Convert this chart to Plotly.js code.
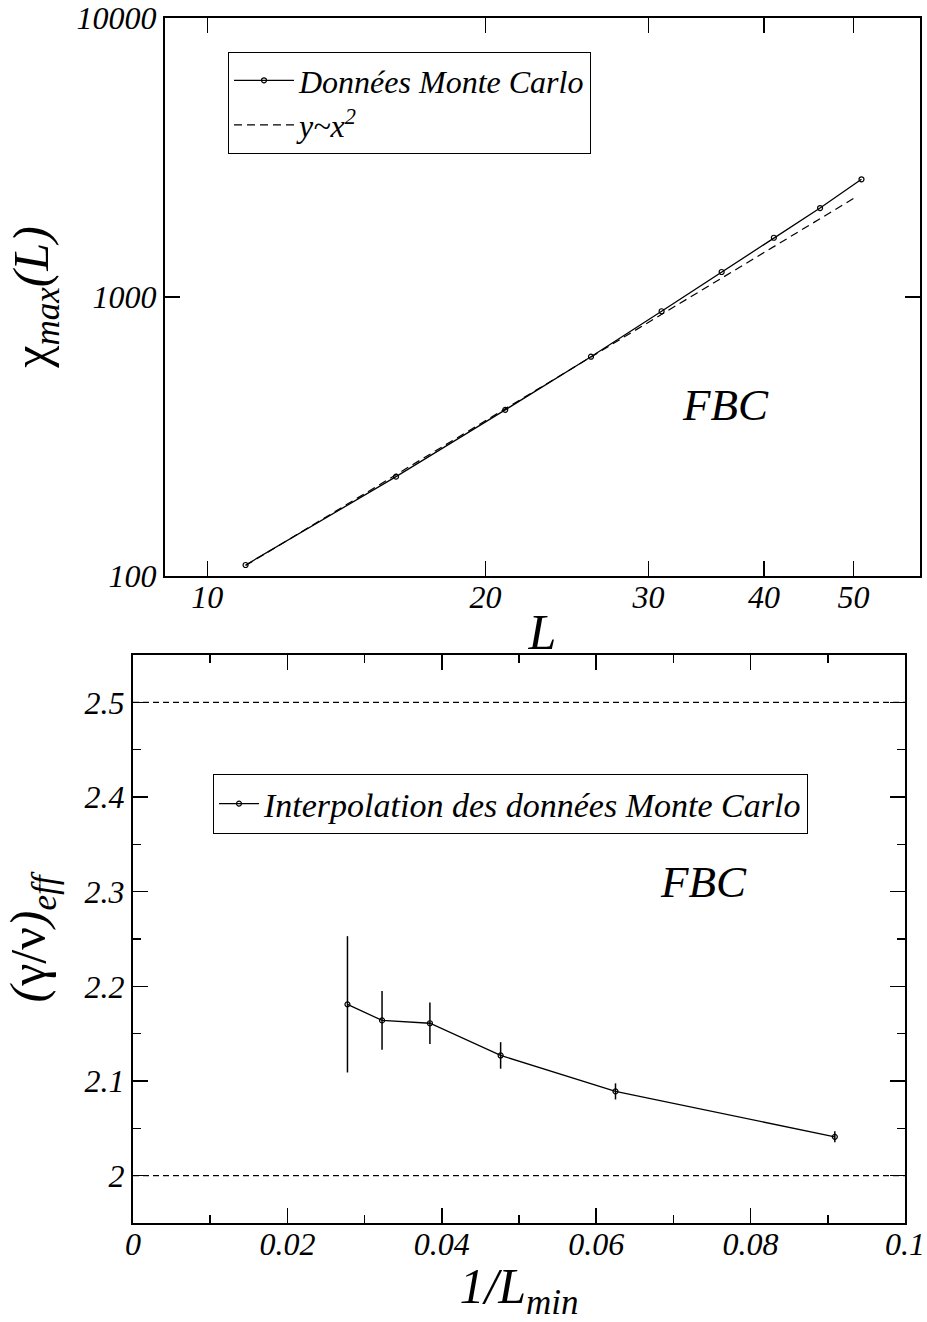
<!DOCTYPE html>
<html>
<head>
<meta charset="utf-8">
<script src="https://cdn.plot.ly/plotly-3.0.1.min.js"></script>
<style>html,body{margin:0;padding:0;background:#fff;}#chart{width:927px;height:1322px;}</style>
</head>
<body>
<div id="chart"></div>
<script>
// ---- Top panel: chi_max(L) vs L (log-log) ----
const L = [11, 16, 21, 26, 31, 36, 41, 46, 51];
const chiMax = [109.5, 227, 394, 611, 889, 1229, 1631, 2084, 2642];
const fitL = [11, 50.5];
const fitChi = [109, 2300];
const topXTickVals = [10, 20, 30, 40, 50];
const topXTickText = ["10", "20", "30", "40", "50"];
const topYTickVals = [100, 1000, 10000];
const topYTickText = ["100", "1000", "10000"];
const topYMinor = [200, 300, 400, 500, 600, 700, 800, 900, 2000, 3000, 4000, 5000, 6000, 7000, 8000, 9000];

// ---- Bottom panel: (gamma/nu)_eff vs 1/L_min ----
const invLmin = [0.02778, 0.03226, 0.03846, 0.04762, 0.0625, 0.09091];
const gammaNu = [2.181, 2.164, 2.161, 2.127, 2.089, 2.041];
const gammaNuErr = [0.072, 0.031, 0.022, 0.014, 0.0085, 0.0058];
const refLevels = [2.0, 2.5];
const botXTickVals = [0, 0.02, 0.04, 0.06, 0.08, 0.1];
const botXTickText = ["0", "0.02", "0.04", "0.06", "0.08", "0.1"];
const botYTickVals = [2.0, 2.1, 2.2, 2.3, 2.4, 2.5];
const botYTickText = ["2", "2.1", "2.2", "2.3", "2.4", "2.5"];

const W = 927, H = 1322;
const FONT = 'Liberation Serif';
const up = s => '<span style="font-style:normal">' + s + '</span>';

const traces = [
  {x: L, y: chiMax, xaxis: 'x', yaxis: 'y', type: 'scatter', mode: 'lines+markers',
   name: 'Données Monte Carlo', legend: 'legend',
   line: {color: 'black', width: 1.3},
   marker: {symbol: 'circle-open', size: 5, color: 'black', line: {width: 1.2, color: 'black'}}},
  {x: fitL, y: fitChi, xaxis: 'x', yaxis: 'y', type: 'scatter', mode: 'lines',
   name: 'y~x<sup>2</sup>', legend: 'legend',
   line: {color: 'black', width: 1.2, dash: '8px,5px'}},
  {x: invLmin, y: gammaNu, xaxis: 'x2', yaxis: 'y2', type: 'scatter', mode: 'lines+markers',
   name: 'Interpolation des données Monte Carlo', legend: 'legend2',
   error_y: {type: 'data', array: gammaNuErr, visible: true, width: 0, thickness: 1.5, color: 'black'},
   line: {color: 'black', width: 1.3},
   marker: {symbol: 'circle-open', size: 5, color: 'black', line: {width: 1.2, color: 'black'}}}
];

const axCommon = {
  showline: true, linecolor: 'black', linewidth: 2, mirror: 'ticks',
  ticks: 'inside', ticklen: 15, tickwidth: 1.5, tickcolor: 'black',
  showgrid: false, zeroline: false,
  tickfont: {family: FONT, size: 32, color: 'black', style: 'italic'}
};

const topY0 = 1 - 576 / H, topY1 = 1 - 18 / H;
const botY0 = 1 - 1223 / H, botY1 = 1 - 655 / H;

const layout = {
  width: W, height: H,
  margin: {l: 0, r: 0, t: 0, b: 0},
  paper_bgcolor: 'white', plot_bgcolor: 'white',
  font: {family: FONT, size: 32, color: 'black', style: 'italic'},
  showlegend: true,
  xaxis: Object.assign({}, axCommon, {
    domain: [165 / W, 920 / W], anchor: 'y', type: 'log',
    range: [Math.log10(9), Math.log10(59)],
    tickvals: topXTickVals, ticktext: topXTickText, ticklabelstandoff: -8,
    title: {text: 'L', font: {family: FONT, size: 50, style: 'italic'}, standoff: 0}
  }),
  yaxis: Object.assign({}, axCommon, {
    domain: [topY0, topY1], anchor: 'x', type: 'log', range: [2, 4],
    tickvals: topYTickVals, ticktext: topYTickText,
    title: {text: up('χ') + '<sub>max</sub>(L)', font: {family: FONT, size: 50, style: 'italic'}, standoff: 12}
  }),
  yaxis3: {
    overlaying: 'y', anchor: 'x', side: 'left', type: 'log', range: [2, 4],
    tickvals: topYMinor, ticks: 'inside', ticklen: 8, tickwidth: 1.5, tickcolor: 'black',
    showticklabels: false, showline: false, showgrid: false, zeroline: false, mirror: 'ticks'
  },
  xaxis2: Object.assign({}, axCommon, {
    domain: [133 / W, 905 / W], anchor: 'y2', range: [0, 0.1],
    tickvals: botXTickVals, ticktext: botXTickText, ticklabelstandoff: -8,
    minor: {dtick: 0.01, ticks: 'inside', ticklen: 8, tickwidth: 1.5, tickcolor: 'black'},
    title: {text: '1/L<sub>min</sub>', font: {family: FONT, size: 50, style: 'italic'}, standoff: 0}
  }),
  yaxis2: Object.assign({}, axCommon, {
    domain: [botY0, botY1], anchor: 'x2', range: [1.95, 2.55],
    tickvals: botYTickVals, ticktext: botYTickText,
    minor: {dtick: 0.05, tick0: 1.95, ticks: 'inside', ticklen: 8, tickwidth: 1.5, tickcolor: 'black'},
    title: {text: '(' + up('γ/ν') + ')<sub>eff</sub>', font: {family: FONT, size: 50, style: 'italic'}, standoff: 23}
  }),
  legend: {
    x: 228 / W, y: 1 - 52 / H, xanchor: 'left', yanchor: 'top',
    bgcolor: 'white', bordercolor: 'black', borderwidth: 1, itemwidth: 60, tracegroupgap: 0,
    font: {family: FONT, size: 32, color: 'black', style: 'italic'}
  },
  legend2: {
    x: 213 / W, y: 1 - 774 / H, xanchor: 'left', yanchor: 'top',
    bgcolor: 'white', bordercolor: 'black', borderwidth: 1, itemwidth: 40,
    font: {family: FONT, size: 34, color: 'black', style: 'italic'}
  },
  shapes: refLevels.map(v => ({
    type: 'line', xref: 'x2 domain', yref: 'y2', x0: 0, x1: 1, y0: v, y1: v,
    line: {color: 'black', width: 1.2, dash: '6px,4px'}
  })),
  annotations: [
    {text: 'FBC', xref: 'paper', yref: 'paper', x: 725 / W, y: 1 - 405 / H, showarrow: false,
     xanchor: 'center', yanchor: 'middle', font: {family: FONT, size: 45, style: 'italic', color: 'black'}},
    {text: 'FBC', xref: 'paper', yref: 'paper', x: 703 / W, y: 1 - 882 / H, showarrow: false,
     xanchor: 'center', yanchor: 'middle', font: {family: FONT, size: 45, style: 'italic', color: 'black'}}
  ]
};

Plotly.newPlot('chart', traces, layout, {displayModeBar: false, staticPlot: true});
</script>
</body>
</html>
